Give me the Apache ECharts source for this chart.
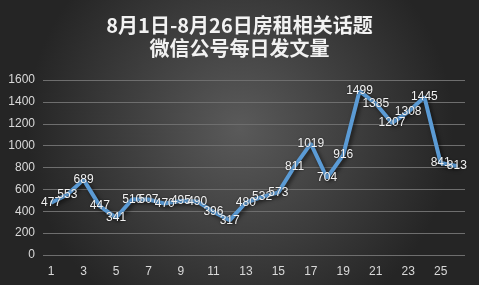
<!DOCTYPE html>
<html><head><meta charset="utf-8">
<style>html,body{margin:0;padding:0;background:#333;}#c{width:479px;height:285px;}</style>
<script src="https://cdn.jsdelivr.net/npm/echarts@6/dist/echarts.min.js"></script>
</head><body><div id="c"></div>
<script>
var titleText = '8月1日-8月26日房租相关话题\n微信公号每日发文量';
var categories = ['1','2','3','4','5','6','7','8','9','10','11','12','13','14','15','16','17','18','19','20','21','22','23','24','25','26'];
var values = [477,553,689,447,341,510,507,470,495,490,396,317,480,532,573,811,1019,704,916,1499,1385,1207,1308,1445,841,813];
var yTicks = {min:0, max:1600, interval:200};

var chart = echarts.init(document.getElementById('c'));
chart.setOption({
  backgroundColor: {type:'radial', x:0.5, y:0.45, r:0.75, colorStops:[{offset:0,color:'#5a5a5a'},{offset:1,color:'#252525'}]},
  title: {text:titleText, left:'center', top:9, textStyle:{color:'#f2f2f2', fontSize:20, fontWeight:'bold', fontFamily:'Noto Sans CJK SC', lineHeight:23}},
  grid: {left:43, right:14, top:80, bottom:30},
  xAxis: {type:'category', data:categories, boundaryGap:true,
    axisLine:{show:false}, axisTick:{show:false},
    axisLabel:{color:'#d9d9d9', fontSize:12, fontFamily:'Liberation Sans', interval:1, margin:11}},
  yAxis: {type:'value', min:yTicks.min, max:yTicks.max, interval:yTicks.interval,
    axisLine:{show:false}, axisTick:{show:false},
    axisLabel:{color:'#d9d9d9', fontSize:12, fontFamily:'Liberation Sans', margin:8, formatter:function(v){return String(v);}},
    splitLine:{lineStyle:{color:'#6e6e6e', width:1}}},
  series: [{type:'line', data:values, symbol:'circle', symbolSize:2, showSymbol:true, showAllSymbol:true, smooth:false,
    itemStyle:{color:'#5b9bd5'},
    lineStyle:{color:'#5b9bd5', width:4, shadowColor:'rgba(0,0,0,0.6)', shadowBlur:4, shadowOffsetX:2, shadowOffsetY:2},
    label:{show:true, position:'inside', color:'#f2f2f2', fontSize:12, fontFamily:'Liberation Sans',
      textShadowColor:'rgba(0,0,0,0.6)', textShadowBlur:2},
    labelLayout:{hideOverlap:false},
    animation:false}],
  animation:false
});
</script></body></html>
